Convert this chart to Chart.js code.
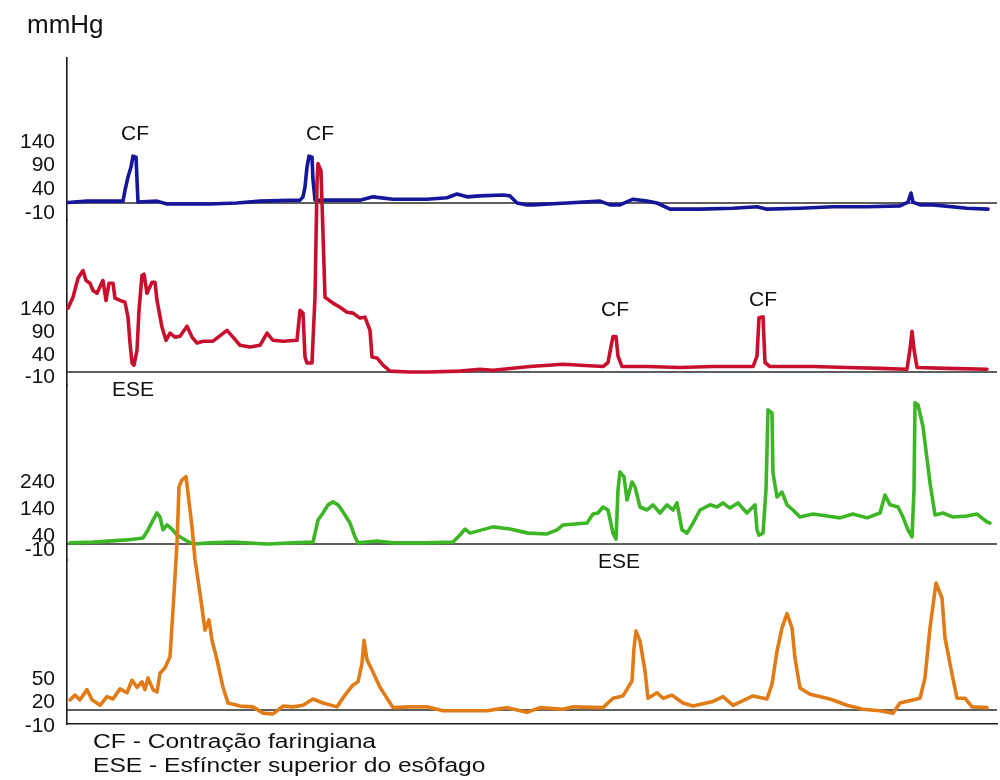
<!DOCTYPE html>
<html>
<head>
<meta charset="utf-8">
<script src="https://cdn.jsdelivr.net/npm/chart.js@4/dist/chart.umd.min.js"></script>
<style>
html,body{margin:0;padding:0;background:#fff;}
canvas{display:block;}
</style>
</head>
<body>
<canvas id="c" width="1000" height="780"></canvas>
<script>
// ---------- DATA (time in arbitrary units, pressure in mmHg) ----------
const timeBlue = [1,20,56,58,61,64,66,69,70,71,90,100,120,143,170,193,233,236,238,240,242,245,246,248,260,293,306,326,360,380,390,400,413,436,443,450,460,466,500,533,543,553,566,580,590,603,633,666,690,700,733,766,800,833,841,844,846,853,866,900,921];
const pressureBlue = [1,4,4,27,55,76,99,97,49,2,4,-2,-2,-2,0,4,6,13,34,76,99,97,49,6,6,6,13,8,8,11,19,13,15,17,15,0,-4,-4,0,4,-4,-4,8,4,0,-13,-13,-11,-8,-13,-11,-8,-8,-6,2,21,2,-4,-4,-11,-13];

const timeRed = [1,6,11,16,19,23,26,30,35,36,39,42,46,48,53,58,61,63,65,67,70,72,75,77,80,85,88,90,95,99,103,108,113,120,125,130,136,146,160,166,173,183,193,200,206,216,230,233,236,238,240,245,246,248,250,251,254,256,258,266,273,280,286,293,298,303,305,310,316,323,343,360,393,413,426,463,496,536,541,544,546,549,551,555,580,613,646,686,690,692,696,698,703,746,780,813,840,843,845,847,850,880,920];
const pressureRed = [141,165,207,224,202,196,180,174,198,202,158,196,196,163,158,154,121,64,20,15,48,136,213,216,174,198,198,158,99,70,86,77,79,101,77,64,68,68,92,77,59,55,59,86,70,68,70,136,130,33,20,20,70,165,416,460,444,306,165,152,143,132,130,119,121,92,33,31,15,2,0,0,2,6,4,12,17,12,21,56,78,78,35,12,12,10,12,12,35,120,122,21,12,12,10,8,6,50,90,50,10,8,6];

const timeGreen = [3,26,60,76,81,86,90,93,96,100,105,110,120,126,143,166,200,226,246,251,256,261,266,271,276,283,288,291,310,326,360,386,393,398,403,426,443,461,480,490,496,520,526,531,536,541,546,549,551,553,557,560,565,568,573,580,586,593,600,606,610,615,620,626,633,643,650,656,663,671,680,688,690,692,696,699,701,705,706,710,715,720,726,733,746,760,773,786,800,813,818,823,831,836,841,845,847,848,851,856,863,868,876,886,900,910,920,923];
const pressureGreen = [4,7,15,22,52,88,114,99,52,70,55,33,11,0,4,7,0,4,7,88,114,144,155,144,118,77,26,4,11,4,4,7,33,55,40,63,55,40,37,52,70,77,110,114,136,125,40,18,199,265,247,162,228,210,136,125,144,114,144,125,151,52,40,77,125,144,136,151,132,151,114,144,52,33,40,199,493,482,261,173,191,144,125,99,110,103,96,110,96,114,180,144,136,99,52,26,199,519,512,431,224,107,114,99,103,110,81,77];

const timeOrange = [3,8,13,20,25,33,40,46,53,60,65,70,75,78,81,86,90,93,98,103,106,110,112,115,119,121,125,128,133,138,142,145,150,156,161,173,186,196,206,216,226,236,246,256,270,278,286,291,295,297,300,305,313,326,343,360,376,393,420,440,460,473,496,506,536,546,556,565,567,569,573,578,581,590,596,605,616,626,646,656,666,686,700,705,710,715,720,725,728,733,743,763,780,796,813,826,833,853,858,863,869,875,878,885,890,898,905,920];
const pressureOrange = [13,19,13,26,13,6,17,14,27,22,38,29,36,26,41,26,23,47,54,68,128,213,285,294,298,277,234,192,149,102,115,89,64,29,9,5,4,-4,-5,5,4,6,14,9,4,19,32,36,60,89,64,51,29,3,4,4,-1,-1,-1,3,-3,3,1,4,3,15,18,37,79,101,88,50,15,22,15,19,9,5,11,17,6,18,14,33,75,105,123,105,66,28,20,14,6,1,-1,-4,9,15,41,105,162,143,92,46,15,15,4,3];

const ticksBlue = [140, 90, 40, -10];
const ticksRed = [140, 90, 40, -10];
const ticksGreen = [240, 140, 40, -10];
const ticksOrange = [50, 20, -10];

const noteText = ['CF', 'CF', 'CF', 'CF', 'ESE', 'ESE'];
const noteTime = [68, 253, 548, 696, 66, 552];
const notePressure = [146, 146, 136, 158, -40, -66];
const notePanel = ['yBlue', 'yBlue', 'yRed', 'yRed', 'yRed', 'yGreen'];

const unitLabel = 'mmHg';
const footnotes = ['CF - Contração faringiana', 'ESE - Esfíncter superior do esôfago'];

// ---------- LAYOUT (panel band heights in px, baseline offset from band top, px per mmHg) ----------
const panels = {
  yBlue:   {band: 162, base: 145, k: 0.473, ticks: ticksBlue,   labelOffset: 5},
  yRed:    {band: 165, base: 152, k: 0.453, ticks: ticksRed,    labelOffset: 1},
  yGreen:  {band: 175, base: 159, k: 0.272, ticks: ticksGreen,  labelOffset: 3},
  yOrange: {band: 164, base: 150, k: 0.783, ticks: ticksOrange, labelOffset: 8}
};

const FONT = '"Liberation Sans", Arial, Helvetica, sans-serif';

function yAxis(key) {
  const p = panels[key];
  return {
    type: 'linear',
    position: 'left',
    stack: 'manometry',
    stackWeight: p.band,
    max: p.base / p.k,
    min: -(p.band - p.base) / p.k,
    grid: {display: false, drawTicks: false},
    border: {display: true, color: '#1a1a1a', width: 1.6},
    ticks: {
      autoSkip: false,
      padding: 12,
      labelOffset: p.labelOffset,
      color: '#111',
      font: {family: FONT, size: 21},
      callback: v => String(v)
    },
    afterBuildTicks: s => { s.ticks = p.ticks.map(v => ({value: v})); },
    afterFit: s => { s.width = 67; }
  };
}

function pts(t, p) { return t.map((x, i) => ({x: x, y: p[i]})); }
function baseline(axis) {
  return {
    data: [{x: 0, y: 0}, {x: 930, y: 0}],
    yAxisID: axis, borderColor: '#2a2a2a', borderWidth: 1.5,
    pointRadius: 0, order: 10, clip: false
  };
}
function trace(t, p, axis, color, order) {
  return {
    data: pts(t, p), yAxisID: axis, borderColor: color, borderWidth: 3.6,
    pointRadius: 0, tension: 0, borderJoinStyle: 'round', borderCapStyle: 'round',
    order: order, clip: false
  };
}

const notesPlugin = {
  id: 'notes',
  afterDatasetsDraw(chart) {
    const ctx = chart.ctx;
    const xs = chart.scales.x;
    const a = chart.chartArea;
    ctx.save();
    ctx.fillStyle = '#111';
    ctx.font = '21px ' + FONT;
    ctx.textAlign = 'center';
    ctx.textBaseline = 'middle';
    noteText.forEach((txt, i) => {
      const x = xs.getPixelForValue(noteTime[i]);
      const y = chart.scales[notePanel[i]].getPixelForValue(notePressure[i]);
      ctx.fillText(txt, x, y);
    });
    // unit label above the axis
    ctx.font = '26px ' + FONT;
    ctx.textAlign = 'left';
    ctx.textBaseline = 'alphabetic';
    ctx.fillText(unitLabel, a.left - 40, a.top - 25);
    // footnotes below the chart
    ctx.font = '20px ' + FONT;
    footnotes.forEach((line, i) => {
      ctx.save();
      ctx.translate(a.left + 26, a.bottom + 24 + i * 24);
      ctx.scale(1.23, 1);
      ctx.fillText(line, 0, 0);
      ctx.restore();
    });
    ctx.restore();
  }
};

new Chart(document.getElementById('c'), {
  type: 'line',
  data: {
    datasets: [
      trace(timeBlue, pressureBlue, 'yBlue', '#16169a', 4),
      trace(timeRed, pressureRed, 'yRed', '#c8102e', 3),
      trace(timeGreen, pressureGreen, 'yGreen', '#3cb624', 2),
      trace(timeOrange, pressureOrange, 'yOrange', '#e07b16', 1),
      baseline('yBlue'), baseline('yRed'), baseline('yGreen'), baseline('yOrange')
    ]
  },
  options: {
    responsive: false,
    animation: false,
    layout: {padding: {left: 0, top: 58, right: 3, bottom: 56}},
    plugins: {
      legend: {display: false},
      tooltip: {enabled: false},
      title: {display: false}
    },
    scales: {
      x: {
        type: 'linear', min: 0, max: 930,
        grid: {display: false, drawTicks: false},
        ticks: {display: false},
        border: {display: true, color: '#1a1a1a', width: 1.6}
      },
      // stacked left axes are placed bottom-up, so the lowest panel comes first
      yOrange: yAxis('yOrange'),
      yGreen: yAxis('yGreen'),
      yRed: yAxis('yRed'),
      yBlue: yAxis('yBlue')
    }
  },
  plugins: [notesPlugin]
});
</script>
</body>
</html>
